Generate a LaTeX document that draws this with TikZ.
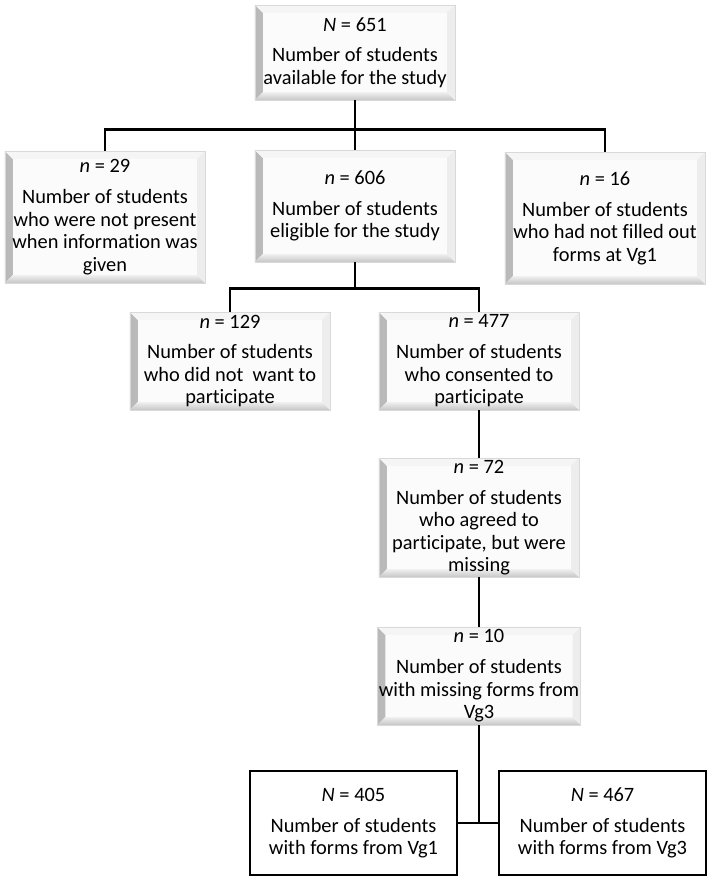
\documentclass[tikz,border=0pt]{standalone}
\usepackage{fontspec}
\setmainfont{Carlito}[Ligatures=NoCommon]
\usepackage{tikz}
\usetikzlibrary{calc}

\begin{document}
\begin{tikzpicture}[x=0.025cm,y=-0.025cm,
  box/.style={draw=gray!30,fill=gray!3,align=center,inner sep=1pt,
    minimum width=5cm,font=\fontsize{14.5}{16}\selectfont,
    path picture={
      \shade[left color=gray!55,right color=gray!18]
        (path picture bounding box.south west) -- (path picture bounding box.north west)
        -- ++(8,8) -- ($(path picture bounding box.south west)+(8,-8)$) -- cycle;
      \shade[top color=gray!12,bottom color=gray!45]
        (path picture bounding box.south west) -- ($(path picture bounding box.south west)+(8,-8)$)
        -- ($(path picture bounding box.south east)+(-8,-8)$) -- (path picture bounding box.south east) -- cycle;
      \fill[gray!8]
        (path picture bounding box.north west) -- (path picture bounding box.north east)
        -- ++(-8,8) -- ($(path picture bounding box.north west)+(8,8)$) -- cycle;
      \fill[gray!14]
        (path picture bounding box.north east) -- (path picture bounding box.south east)
        -- ++(-8,-8) -- ($(path picture bounding box.north east)+(-8,8)$) -- cycle;
    }},
  final/.style={draw,line width=1.2pt,fill=white,align=center,inner sep=1pt,
    minimum width=5.18cm,minimum height=2.6cm,font=\fontsize{14.5}{16}\selectfont},
  link/.style={line width=2pt}]
\useasboundingbox (0,0) rectangle (709,878);

\node[box,minimum height=2.38cm] (all) at (355,52.5)
  {\textit{N} = 651\\[6pt] Number of students\\ available for the study};

\node[box,minimum height=3.3cm] (absent) at (105,217)
  {\textit{n} = 29\\[6pt] Number of students\\ who were not present\\ when information was\\ given};
\node[box,minimum height=2.8cm] (eligible) at (355,206)
  {\textit{n} = 606\\[6pt] Number of students\\ eligible for the study};
\node[box,minimum height=3.3cm] (noforms) at (605,218)
  {\textit{n} = 16\\[6pt] Number of students\\ who had not filled out\\ forms at Vg1};

\node[box,minimum height=2.45cm] (declined) at (230,361)
  {\textit{n} = 129\\[6pt] Number of students\\ who did not\ \ want to\\ participate};
\node[box,minimum height=2.45cm] (consent) at (479,361)
  {\textit{n} = 477\\[6pt] Number of students\\ who consented to\\ participate};

\node[box,minimum height=2.98cm] (missing) at (479,517.5)
  {\textit{n} = 72\\[6pt] Number of students\\ who agreed to\\ participate, but were\\ missing};
\node[box,minimum height=2.45cm] (vgthree) at (479,676)
  {\textit{n} = 10\\[6pt] Number of students\\ with missing forms from\\ Vg3};

\node[final] (formsone) at (353.5,823)
  {\textit{N} = 405\\[6pt] Number of students\\ with forms from Vg1};
\node[final] (formsthree) at (602.5,823)
  {\textit{N} = 467\\[6pt] Number of students\\ with forms from Vg3};

% connectors
\draw[link] (all.south) -- ++(0,29) coordinate (split);
\draw[link] (absent.north) |- (split) -| (noforms.north);
\draw[link] (split) -- (eligible.north);
\draw[link] (eligible.south) -- ++(0,26) coordinate (split2);
\draw[link] (declined.north) |- (split2) -| (consent.north);
\draw[link] (consent) -- (missing);
\draw[link] (missing) -- (vgthree);
\draw[link] (vgthree.south) -- (vgthree.south |- formsone.east) coordinate (join);
\draw[link] (formsone.east) -- (formsthree.west);
\end{tikzpicture}
\end{document}
